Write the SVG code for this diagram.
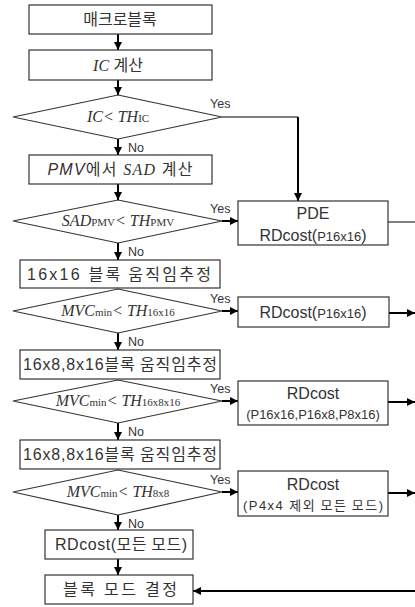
<svg xmlns="http://www.w3.org/2000/svg" width="415" height="607" viewBox="0 0 415 607">
<defs>
<marker id="ah" markerUnits="userSpaceOnUse" markerWidth="8" markerHeight="8" refX="8" refY="4" orient="auto"><path d="M0,0 L8,4 L0,8 z" fill="#000"/></marker>
</defs>
<style>
.box{fill:#fff;stroke:#333;stroke-width:1.2}
.t{font-family:"Liberation Sans","Noto Sans CJK KR",sans-serif;font-size:16px;fill:#333;text-anchor:middle}
.k{font-family:"Noto Sans CJK KR",sans-serif}
.i{font-style:italic}
.m{font-family:"Liberation Serif","Noto Sans CJK KR",serif;font-style:italic;font-size:16px;fill:#333;text-anchor:middle}
.s{font-style:normal;font-size:11px}
.sm{font-size:13px}
.lbl{font-family:"Liberation Sans",sans-serif;font-size:12.5px;fill:#333}
.c{stroke:#000;stroke-width:2;fill:none}
.cn{stroke:#000;stroke-width:1;fill:none}
</style>
<g id="connectors">
<path class="c" d="M118,34 V50" marker-end="url(#ah)"/>
<path class="c" d="M118,80 V95" marker-end="url(#ah)"/>
<path class="cn" d="M222,117 H298"/>
<path class="c" d="M298,117 V201" marker-end="url(#ah)"/>
<path class="c" d="M118,139 V155" marker-end="url(#ah)"/>
<path class="c" d="M118,184 V200" marker-end="url(#ah)"/>
<path class="c" d="M222,221 H238" marker-end="url(#ah)"/>
<path class="cn" d="M388,222 H415"/>
<path class="c" d="M118,243 V260" marker-end="url(#ah)"/>
<path class="c" d="M222,311 H238" marker-end="url(#ah)"/>
<path class="c" d="M389,313 H415" marker-end="url(#ah)"/>
<path class="c" d="M118,333 V350" marker-end="url(#ah)"/>
<path class="c" d="M222,401 H238" marker-end="url(#ah)"/>
<path class="c" d="M388,402 H415" marker-end="url(#ah)"/>
<path class="c" d="M118,423 V440" marker-end="url(#ah)"/>
<path class="c" d="M222,492 H238" marker-end="url(#ah)"/>
<path class="c" d="M388,493 H415" marker-end="url(#ah)"/>
<path class="c" d="M118,515 V530" marker-end="url(#ah)"/>
<path class="c" d="M118,559 V575" marker-end="url(#ah)"/>
<path class="c" d="M415,591 H193" marker-end="url(#ah)"/>
<text class="lbl" x="210" y="108">Yes</text>
<text class="lbl" x="128" y="152">No</text>
<text class="lbl" x="210" y="213">Yes</text>
<text class="lbl" x="128" y="256">No</text>
<text class="lbl" x="210" y="303">Yes</text>
<text class="lbl" x="128" y="346">No</text>
<text class="lbl" x="210" y="393">Yes</text>
<text class="lbl" x="128" y="436">No</text>
<text class="lbl" x="210" y="484">Yes</text>
<text class="lbl" x="128" y="528">No</text>
</g>
<g id="n1"><rect class="box" x="29" y="5" width="183" height="29"/><text class="t k" x="120" y="25">매크로블록</text></g>
<g id="n2"><rect class="box" x="29" y="50" width="183" height="30"/><text class="t" x="118" y="71"><tspan class="m">IC</tspan> <tspan class="k">계산</tspan></text></g>
<g id="d1"><polygon class="box" points="118,95 222,117 118,139 13,117"/><text class="m" x="118" y="122">IC&lt; TH<tspan class="s">IC</tspan></text></g>
<g id="n3"><rect class="box" x="29" y="155" width="183" height="29"/><text class="t" x="120" y="175" textLength="145" lengthAdjust="spacing"><tspan class="i">PMV</tspan><tspan class="k">에서</tspan>  <tspan class="m">SAD</tspan> <tspan class="k">계산</tspan></text></g>
<g id="d2"><polygon class="box" points="118,200 222,221 118,243 13,221"/><text class="m" x="118" y="226">SAD<tspan class="s">PMV</tspan>&lt; TH<tspan class="s">PMV</tspan></text></g>
<g id="n4"><rect class="box" x="238" y="201" width="150" height="44"/><text class="t" x="313" y="219">PDE</text><text class="t" x="313" y="241">RDcost(<tspan class="sm">P16x16</tspan>)</text></g>
<g id="n5"><rect class="box" x="20" y="260" width="200" height="28"/><text class="t" x="119" y="280" textLength="184" lengthAdjust="spacing">16x16 <tspan class="k">블록 움직임추정</tspan></text></g>
<g id="d3"><polygon class="box" points="118,289 222,311 118,333 13,311"/><text class="m" x="118" y="316">MVC<tspan class="s">min</tspan>&lt; TH<tspan class="s">16x16</tspan></text></g>
<g id="n6"><rect class="box" x="238" y="297" width="151" height="30"/><text class="t" x="313" y="318">RDcost(<tspan class="sm">P16x16</tspan>)</text></g>
<g id="n7"><rect class="box" x="20" y="350" width="200" height="29"/><text class="t" x="120" y="370" textLength="194" lengthAdjust="spacing">16x8,8x16<tspan class="k">블록 움직임추정</tspan></text></g>
<g id="d4"><polygon class="box" points="118,380 222,401 118,423 13,401"/><text class="m" x="118" y="406">MVC<tspan class="s">min</tspan>&lt; TH<tspan class="s">16x8x16</tspan></text></g>
<g id="n8"><rect class="box" x="238" y="381" width="150" height="44"/><text class="t" x="313" y="399">RDcost</text><text class="t sm" x="313" y="419">(P16x16,P16x8,P8x16)</text></g>
<g id="n9"><rect class="box" x="20" y="440" width="200" height="29"/><text class="t" x="120" y="460" textLength="194" lengthAdjust="spacing">16x8,8x16<tspan class="k">블록 움직임추정</tspan></text></g>
<g id="d5"><polygon class="box" points="118,470 222,492 118,515 13,492"/><text class="m" x="118" y="497">MVC<tspan class="s">min</tspan>&lt; TH<tspan class="s">8x8</tspan></text></g>
<g id="n10"><rect class="box" x="238" y="471" width="150" height="45"/><text class="t" x="313" y="490">RDcost</text><text class="t sm" x="313" y="510" textLength="140" lengthAdjust="spacing"><tspan>(P4x4 </tspan><tspan class="k">제외 모든 모드</tspan>)</text></g>
<g id="n11"><rect class="box" x="45" y="530" width="148" height="29"/><text class="t" x="121" y="550" textLength="132" lengthAdjust="spacing">RDcost(<tspan class="k">모든 모드</tspan>)</text></g>
<g id="n12"><rect class="box" x="45" y="575" width="148" height="29"/><text class="t k" x="120" y="595" textLength="114" lengthAdjust="spacing">블록 모드 결정</text></g>
</svg>
